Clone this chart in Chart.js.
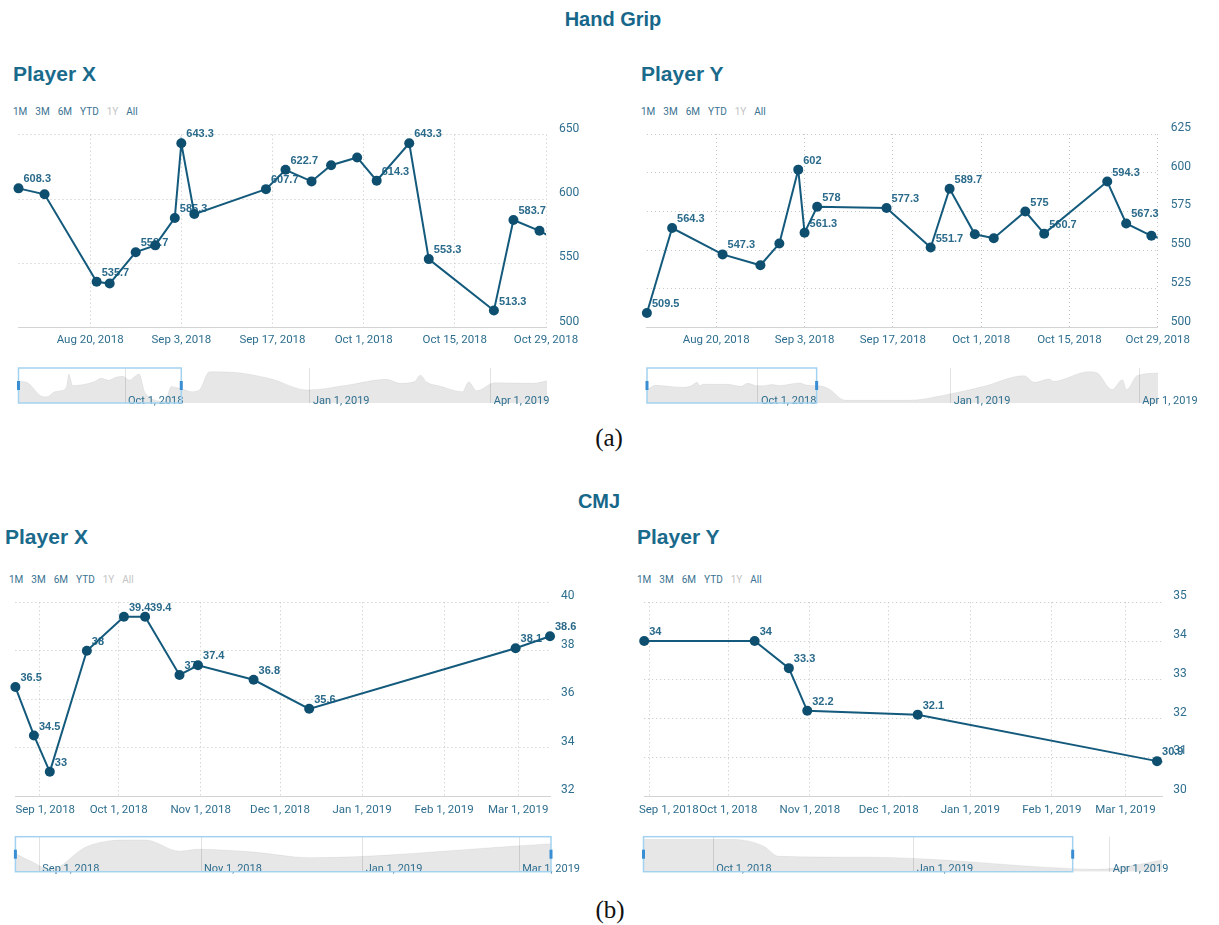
<!DOCTYPE html>
<html>
<head>
<meta charset="utf-8">
<script src="https://cdn.jsdelivr.net/npm/chart.js@4.4.1/dist/chart.umd.min.js"></script>
<style>
  html, body { margin: 0; padding: 0; background: #fff; }
  body { width: 1219px; height: 925px; position: relative; overflow: hidden; font-family: Roboto, sans-serif; }
  .box { position: absolute; }
  .sec { position: absolute; width: 200px; text-align: center; font: bold 20px/20px "Liberation Sans", Arial, sans-serif; color: #17678a; white-space: nowrap; }
  .player { position: absolute; font: bold 21px/21px "Liberation Sans", Arial, sans-serif; color: #1a6a8c; white-space: nowrap; }
  .range { position: absolute; display: flex; gap: 8px; font: 10px/12px Roboto, sans-serif; color: #3a7291; white-space: nowrap; }
  .range .off { color: #c4c4c4; }
  .cap { position: absolute; width: 100px; text-align: center; font: 25px/25px "Liberation Serif", "DejaVu Serif", serif; color: #111; }
</style>
</head>
<body>
<div class="sec" style="left:513px;top:9px;">Hand Grip</div>
<div class="player" style="left:13px;top:63px;">Player X</div>
<div class="player" style="left:641px;top:63px;">Player Y</div>
<div class="range" style="left:13px;top:106px;"><span>1M</span><span>3M</span><span>6M</span><span>YTD</span><span class="off">1Y</span><span>All</span></div>
<div class="range" style="left:641px;top:106px;"><span>1M</span><span>3M</span><span>6M</span><span>YTD</span><span class="off">1Y</span><span>All</span></div>
<div class="cap" style="left:559px;top:425px;">(a)</div>

<div class="sec" style="left:499px;top:491px;">CMJ</div>
<div class="player" style="left:5px;top:526px;">Player X</div>
<div class="player" style="left:637px;top:526px;">Player Y</div>
<div class="range" style="left:9px;top:574px;"><span>1M</span><span>3M</span><span>6M</span><span>YTD</span><span class="off">1Y</span><span class="off">All</span></div>
<div class="range" style="left:637px;top:574px;"><span>1M</span><span>3M</span><span>6M</span><span>YTD</span><span class="off">1Y</span><span>All</span></div>
<div class="cap" style="left:560px;top:897px;">(b)</div>

<script>
// Hand Grip - Player X
const hgXDates = ['2018-08-09', '2018-08-13', '2018-08-21', '2018-08-23', '2018-08-27', '2018-08-30', '2018-09-02',
  '2018-09-03', '2018-09-05', '2018-09-16', '2018-09-19', '2018-09-23', '2018-09-26', '2018-09-30', '2018-10-03',
  '2018-10-08', '2018-10-11', '2018-10-21', '2018-10-24', '2018-10-28'];
const hgXValues = [608.3, 603.7, 535.7, 534.3, 558.7, 564, 585.3, 643.3, 588.3, 607.7, 622.7, 613.7, 626.3, 632.3,
  614.3, 643.3, 553.3, 513.3, 583.7, 575.3];
const hgXLabelled = [1, 0, 1, 0, 1, 0, 1, 1, 0, 1, 1, 0, 0, 0, 1, 1, 1, 1, 1, 0];
// later tests, only visible in the navigator
const hgXLaterDates = ['2018-10-31', '2018-11-03', '2018-11-07', '2018-11-12', '2018-11-23', '2018-12-12', '2018-12-31',
  '2019-01-20', '2019-02-08', '2019-02-15', '2019-02-22', '2019-02-25', '2019-02-28', '2019-03-07', '2019-03-18',
  '2019-03-21', '2019-03-25', '2019-04-03', '2019-04-22', '2019-04-29'];
const hgXLaterValues = [567, 559, 567, 654, 652, 622, 567, 591, 618, 599, 607, 638, 606, 585, 559, 606, 564, 602, 599, 611];

// Hand Grip - Player Y
const hgYDates = ['2018-08-09', '2018-08-13', '2018-08-21', '2018-08-27', '2018-08-30', '2018-09-02', '2018-09-03',
  '2018-09-05', '2018-09-16', '2018-09-23', '2018-09-26', '2018-09-30', '2018-10-03', '2018-10-08', '2018-10-11',
  '2018-10-21', '2018-10-24', '2018-10-28'];
const hgYValues = [509.5, 564.3, 547.3, 540.3, 554.3, 602, 561.3, 578, 577.3, 551.7, 589.7, 560.3, 557.7, 575, 560.7,
  594.3, 567.3, 559.3];
const hgYLabelled = [1, 1, 1, 0, 0, 1, 1, 1, 1, 1, 1, 0, 0, 1, 1, 1, 1, 0];
const hgYLaterDates = ['2018-10-31', '2018-11-05', '2018-11-09', '2018-11-12', '2018-12-12', '2018-12-30', '2019-01-17',
  '2019-02-05', '2019-02-10', '2019-02-17', '2019-02-19', '2019-03-08', '2019-03-12', '2019-03-19', '2019-03-24',
  '2019-03-26', '2019-03-31', '2019-04-10'];
const hgYLaterValues = [556, 500, 405, 375, 375, 446, 552, 686, 602, 644, 615, 736, 720, 510, 636, 510, 686, 720];

// CMJ - Player X
const cmjXDates = ['2018-08-23', '2018-08-30', '2018-09-05', '2018-09-19', '2018-10-03', '2018-10-11', '2018-10-24',
  '2018-10-31', '2018-11-21', '2018-12-12', '2019-02-28', '2019-03-13'];
const cmjXValues = [36.5, 34.5, 33, 38, 39.4, 39.4, 37, 37.4, 36.8, 35.6, 38.1, 38.6];
const cmjXLabelled = [1, 1, 1, 1, 1, 1, 1, 1, 1, 1, 1, 1];
const cmjXLaterDates = [];
const cmjXLaterValues = [];

// CMJ - Player Y
const cmjYDates = ['2018-08-30', '2018-10-11', '2018-10-24', '2018-10-31', '2018-12-12', '2019-03-13'];
const cmjYValues = [34, 34, 33.3, 32.2, 32.1, 30.9];
const cmjYLabelled = [1, 1, 1, 1, 1, 1];
const cmjYLaterDates = ['2019-03-26', '2019-04-10', '2019-04-25'];
const cmjYLaterValues = [30.8, 31.15, 31.8];

// tick labels
const hgTicks = ['2018-08-20', '2018-09-03', '2018-09-17', '2018-10-01', '2018-10-15', '2018-10-29'];
const cmjTicks = ['2018-09-01', '2018-10-01', '2018-11-01', '2018-12-01', '2019-01-01', '2019-02-01', '2019-03-01'];
const navTicksQuarter = ['2018-10-01', '2019-01-01', '2019-04-01'];
const navTicksCmjX = ['2018-09-01', '2018-11-01', '2019-01-01', '2019-03-01'];

const MONTHS = ['Jan', 'Feb', 'Mar', 'Apr', 'May', 'Jun', 'Jul', 'Aug', 'Sep', 'Oct', 'Nov', 'Dec'];
const TEAL = '#2e6e8e';
const LINE = '#145a7c';
const MARK = '#0e4f70';
const GRID = '#c4c4c4';
const AXIS = '#d3d3d3';
const NONE = 'rgba(0,0,0,0)';

Chart.defaults.font.family = 'Roboto, sans-serif';

function ts(s) {
  const [y, m, d] = s.split('-').map(Number);
  return Date.UTC(y, m - 1, d);
}

function fmt(v) {
  const d = new Date(v);
  return MONTHS[d.getUTCMonth()] + ' ' + d.getUTCDate() + ', ' + d.getUTCFullYear();
}

function addCanvas(r) {
  const c = document.createElement('canvas');
  c.className = 'box';
  c.style.left = r[0] + 'px';
  c.style.top = r[1] + 'px';
  c.width = r[2];
  c.height = r[3];
  document.body.appendChild(c);
  return c;
}

// value labels, drawn under the markers
function pointLabels(values, shown) {
  return {
    id: 'pointLabels',
    beforeDatasetsDraw(chart) {
      const meta = chart.getDatasetMeta(0);
      const ctx = chart.ctx;
      ctx.save();
      ctx.font = 'bold 11px "Liberation Sans", Arial, sans-serif';
      ctx.fillStyle = '#2a6a8a';
      ctx.textAlign = 'left';
      ctx.textBaseline = 'middle';
      values.forEach((v, i) => {
        if (!shown[i]) return;
        const p = meta.data[i];
        ctx.fillText(String(v), p.x + 5, p.y - 9);
      });
      ctx.restore();
    }
  };
}

// navigator: selection box, handles, date labels
function navDecor(selMin, selMax, ticks) {
  return {
    id: 'navDecor',
    afterDraw(chart) {
      const { ctx, chartArea: a } = chart;
      const sx = chart.scales.x;
      ctx.save();
      ctx.font = '11px Roboto, sans-serif';
      ctx.fillStyle = TEAL;
      ctx.textAlign = 'left';
      ctx.textBaseline = 'alphabetic';
      ticks.forEach(t => ctx.fillText(fmt(ts(t)), sx.getPixelForValue(ts(t)) + 3, a.bottom + 0.5));
      const x1 = sx.getPixelForValue(ts(selMin));
      const x2 = sx.getPixelForValue(ts(selMax));
      ctx.strokeStyle = '#a3d2f0';
      ctx.lineWidth = 1.5;
      ctx.strokeRect(x1, a.top, x2 - x1, a.bottom - a.top);
      const mid = (a.top + a.bottom) / 2;
      ctx.fillStyle = '#3a8fd4';
      ctx.fillRect(x1 - 1.5, mid - 4.5, 3, 9);
      ctx.fillRect(x2 - 1.5, mid - 4.5, 3, 9);
      ctx.restore();
    }
  };
}

function mainChart(p) {
  const [cx, cy, cw, ch] = p.canvas;
  const [pl, pt, pr, pb] = p.plot;
  const c = addCanvas(p.canvas);
  const pts = p.dates.map((d, i) => ({ x: ts(d), y: p.values[i] }));
  if (p.laterDates.length) pts.push({ x: ts(p.laterDates[0]), y: p.laterValues[0] });

  // when the first label would run past the plot's left edge it is pushed in:
  // a hidden tick near the range start carries it, left aligned (align 'inner')
  const tickVals = p.xTicks.map(ts);
  if (p.justifyAt) {
    tickVals.unshift(ts(p.justifyAt));
    tickVals.push(ts(p.xRange[1]));
  }
  const last = tickVals.length - 1;
  const label = (v, i) => {
    if (!p.justifyAt) return fmt(v);
    if (i === 0) return fmt(tickVals[1]);
    if (i === 1 || i === last) return '';
    return fmt(v);
  };

  new Chart(c, {
    type: 'line',
    data: {
      datasets: [{
        data: pts,
        borderColor: LINE,
        borderWidth: 2,
        pointRadius: 5,
        pointHoverRadius: 5,
        pointBackgroundColor: MARK,
        pointBorderWidth: 0,
        tension: 0,
        clip: { left: 8, top: 8, bottom: 8, right: p.clipRight }
      }]
    },
    options: {
      responsive: false,
      animation: false,
      events: [],
      layout: { autoPadding: false, padding: { left: pl - cx, top: pt - cy, right: 0, bottom: 0 } },
      plugins: { legend: { display: false }, tooltip: { enabled: false } },
      scales: {
        x: {
          type: 'linear',
          position: 'bottom',
          min: ts(p.xRange[0]),
          max: ts(p.xRange[1]),
          afterBuildTicks: s => { s.ticks = tickVals.map(v => ({ value: v })); },
          afterFit: s => { s.height = cy + ch - pb; s.paddingLeft = 0; s.paddingRight = 0; },
          grid: {
            drawTicks: false,
            color: ctx => (p.justifyAt && (ctx.index === 0 || ctx.index === last)) ? NONE : GRID
          },
          border: { display: true, color: AXIS, width: 1, dash: [1, 3] },
          ticks: {
            autoSkip: false, maxRotation: 0, padding: p.xPad, color: TEAL,
            align: p.justifyAt ? 'inner' : 'center',
            font: { size: 11.5 }, callback: label
          }
        },
        y: {
          position: 'right',
          min: p.yRange[0],
          max: p.yRange[1],
          afterFit: s => { s.width = cx + cw - pr; s.paddingTop = 0; s.paddingBottom = 0; },
          grid: { color: GRID, drawTicks: false },
          border: { display: false, dash: [1, 3] },
          ticks: { stepSize: p.yStep, padding: p.yPad, labelOffset: -6, color: TEAL, font: { size: 12 } }
        }
      }
    },
    plugins: [pointLabels(p.values, p.labelled)]
  });
}

function navChart(p) {
  const [cx, cy, cw, ch] = p.navCanvas;
  const [pl, pt, pr, pb] = p.navPlot;
  const c = addCanvas(p.navCanvas);
  const dates = p.dates.concat(p.laterDates);
  const values = p.values.concat(p.laterValues);
  const pts = dates.map((d, i) => ({ x: ts(d), y: values[i] }));

  new Chart(c, {
    type: 'line',
    data: {
      datasets: [{
        data: pts,
        borderColor: 'rgba(0,0,0,0.06)',
        borderWidth: 1,
        backgroundColor: 'rgba(0,0,0,0.095)',
        fill: 'start',
        pointRadius: 0,
        cubicInterpolationMode: 'monotone'
      }]
    },
    options: {
      responsive: false,
      animation: false,
      events: [],
      layout: { autoPadding: false, padding: { left: pl - cx, top: pt - cy, right: cx + cw - pr, bottom: cy + ch - pb } },
      plugins: { legend: { display: false }, tooltip: { enabled: false } },
      scales: {
        x: {
          type: 'linear',
          min: ts(dates[0]),
          max: ts(dates[dates.length - 1]),
          afterBuildTicks: s => { s.ticks = p.navTicks.map(d => ({ value: ts(d) })); },
          afterFit: s => { s.height = 0; s.paddingLeft = 0; s.paddingRight = 0; },
          grid: { color: '#e2e2e2', drawTicks: false },
          border: { display: false },
          ticks: { display: false }
        },
        y: { display: false, min: p.navRange[0], max: p.navRange[1] }
      }
    },
    plugins: [navDecor(p.xRange[0], p.xRange[1], p.navTicks)]
  });
}

const panels = [
  {
    dates: hgXDates, values: hgXValues, labelled: hgXLabelled, laterDates: hgXLaterDates, laterValues: hgXLaterValues,
    xRange: ['2018-08-09', '2018-10-29'], xTicks: hgTicks, yRange: [500, 650], yStep: 50, justifyAt: null,
    canvas: [0, 115, 600, 245], plot: [18.5, 134.7, 546, 327.7], xPad: 6, yPad: 13, clipRight: 0,
    navCanvas: [0, 360, 600, 50], navPlot: [18.5, 368, 547, 403], navRange: [505, 672], navTicks: navTicksQuarter
  },
  {
    dates: hgYDates, values: hgYValues, labelled: hgYLabelled, laterDates: hgYLaterDates, laterValues: hgYLaterValues,
    xRange: ['2018-08-09', '2018-10-29'], xTicks: hgTicks, yRange: [500, 625], yStep: 25, justifyAt: null,
    canvas: [600, 115, 619, 245], plot: [646.9, 134, 1157.7, 327.7], xPad: 6, yPad: 13, clipRight: 0,
    navCanvas: [600, 360, 619, 50], navPlot: [647, 368, 1158, 403], navRange: [341, 783], navTicks: navTicksQuarter
  },
  {
    dates: cmjXDates, values: cmjXValues, labelled: cmjXLabelled, laterDates: cmjXLaterDates, laterValues: cmjXLaterValues,
    xRange: ['2018-08-23', '2019-03-13'], xTicks: cmjTicks, yRange: [32, 40], yStep: 2, justifyAt: '2018-08-23',
    canvas: [0, 585, 600, 240], plot: [15.4, 602.3, 550, 796], xPad: 7, yPad: 11, clipRight: 8,
    navCanvas: [0, 828, 600, 50], navPlot: [15.4, 836.7, 551, 871.7], navRange: [32.6, 40.1], navTicks: navTicksCmjX
  },
  {
    dates: cmjYDates, values: cmjYValues, labelled: cmjYLabelled, laterDates: cmjYLaterDates, laterValues: cmjYLaterValues,
    xRange: ['2018-08-30', '2019-03-15'], xTicks: cmjTicks, yRange: [30, 35], yStep: 1, justifyAt: '2018-08-28',
    canvas: [600, 585, 619, 240], plot: [644.2, 602.3, 1162.3, 796], xPad: 7, yPad: 11, clipRight: 0,
    navCanvas: [600, 828, 619, 50], navPlot: [643.5, 836.7, 1162, 871.7], navRange: [30.55, 34.3], navTicks: navTicksQuarter
  }
];

panels.forEach(p => {
  mainChart(p);
  navChart(p);
});
</script>
</body>
</html>
